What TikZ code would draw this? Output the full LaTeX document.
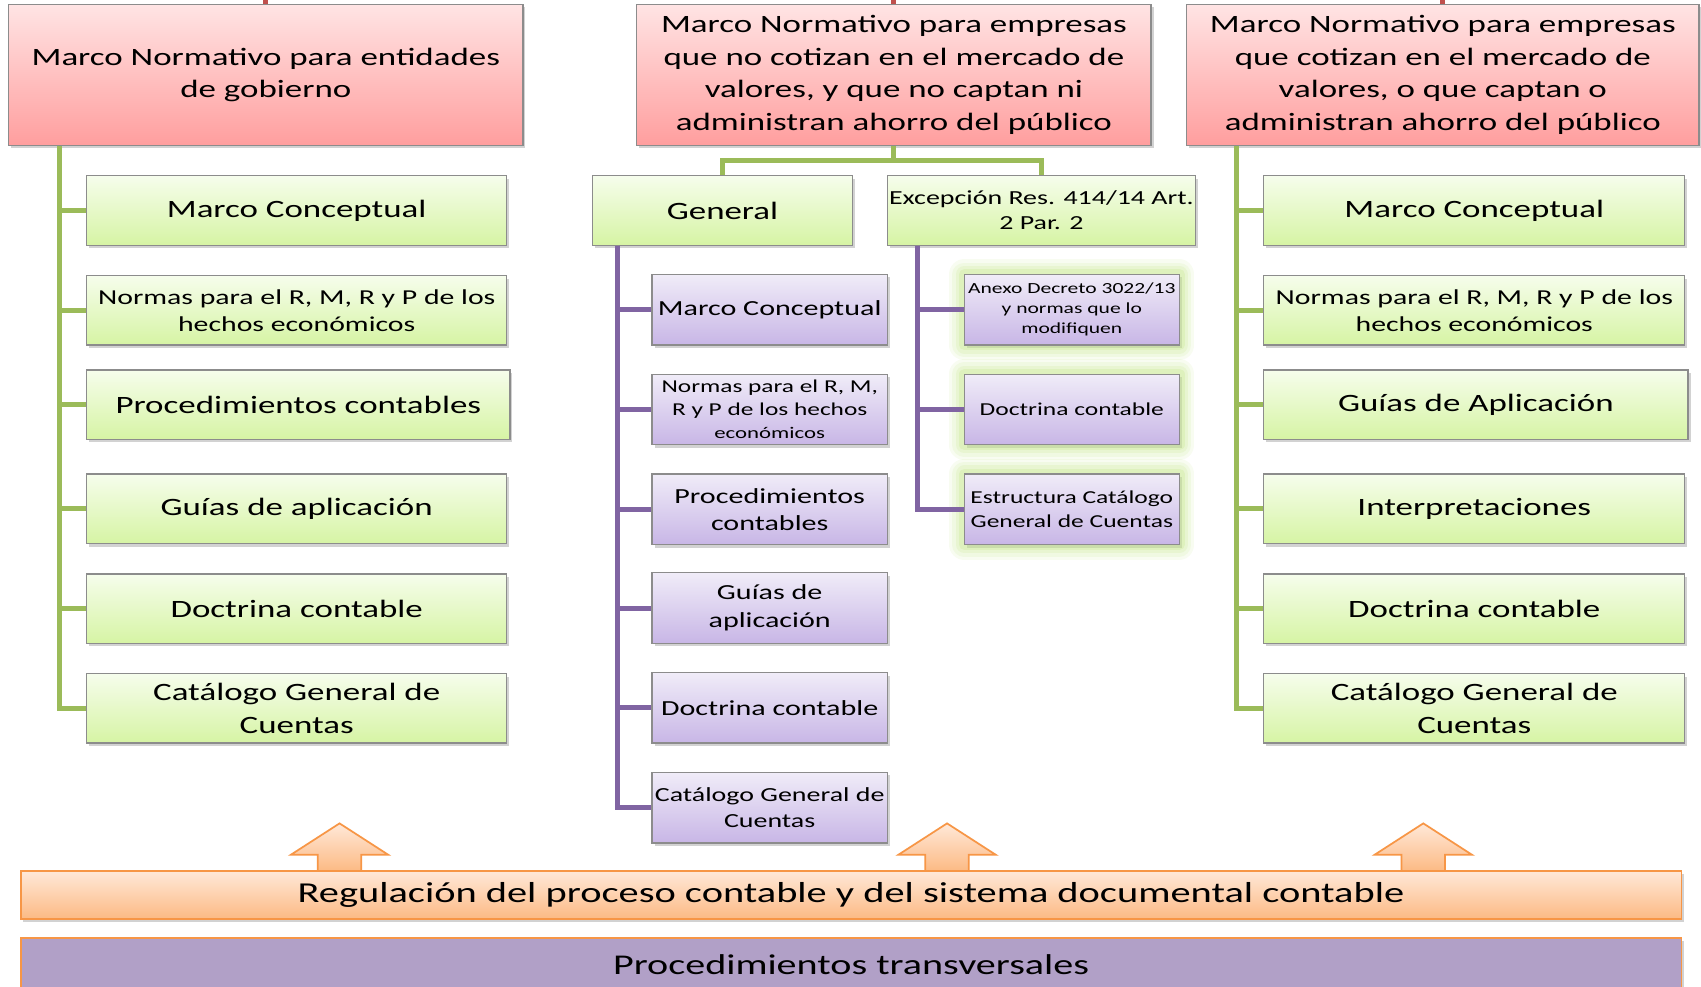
\documentclass[tikz,border=0pt]{standalone}
\usepackage{fontspec}
\setmainfont{Carlito}[FakeStretch=1.4]
\usetikzlibrary{shadows}
\definecolor{redtop}{HTML}{FFE4E4}
\definecolor{redbot}{HTML}{FF9E9E}
\definecolor{grntop}{HTML}{F6FDEC}
\definecolor{grnbot}{HTML}{D6F4A4}
\definecolor{purtop}{HTML}{F0ECF8}
\definecolor{purbot}{HTML}{C8B6E6}
\definecolor{ortop}{HTML}{FFE8D8}
\definecolor{orbot}{HTML}{FCBA84}
\definecolor{orline}{HTML}{F79646}
\definecolor{gline}{HTML}{9BBB59}
\definecolor{pline}{HTML}{8064A2}
\definecolor{rline}{HTML}{C0504D}
\definecolor{bord}{HTML}{8C8C8C}
\definecolor{glowc}{HTML}{C8E890}
\definecolor{transfill}{HTML}{B1A0C7}
\newcommand\mybox[7]{%
  \pgfmathsetmacro\cxx{(#3+#5)/2}\pgfmathsetmacro\cyy{(#4+#6)/2}%
  \pgfmathsetmacro\ww{(#5-#3)*0.5}\pgfmathsetmacro\hh{(#6-#4)*0.5}%
  \node[#2, minimum width=\ww pt, minimum height=\hh pt] (#1) at (\cxx,\cyy) {#7};}
\newcommand\uparr[1]{%
  \draw[arrowsty] (#1-20,803) -- (#1-20,788) -- (#1-45,788) -- (#1,759) -- (#1+45,788) -- (#1+20,788) -- (#1+20,803);}
\tikzset{
  base/.style={draw=bord, line width=0.6pt, inner sep=0pt, align=center, text=black,
    drop shadow={shadow xshift=1.2pt, shadow yshift=-1.4pt, opacity=0.35}},
  redbox/.style={base, top color=redtop, bottom color=redbot, font=\fontsize{11.5}{15}\selectfont},
  grnbox/.style={base, top color=grntop, bottom color=grnbot, font=\fontsize{11.5}{15}\selectfont},
  purbox/.style={base, top color=purtop, bottom color=purbot, font=\fontsize{9.9}{12.5}\selectfont},
  glowbox/.style={purbox,
    preaction={draw=glowc, line width=14pt, opacity=0.12, line join=round},
    preaction={draw=glowc, line width=11pt, opacity=0.15, line join=round},
    preaction={draw=glowc, line width=8pt, opacity=0.2, line join=round},
    preaction={draw=glowc, line width=5pt, opacity=0.3, line join=round}},
  gconn/.style={draw=gline, line width=2.3pt},
  pconn/.style={draw=pline, line width=2.3pt},
  rconn/.style={draw=rline, line width=2.3pt},
  arrowsty/.style={draw=orline, line width=0.8pt, top color=ortop, bottom color=orbot},
}
\begin{document}
\begin{tikzpicture}[x=0.5pt,y=-0.5pt]
\clip (0,0) rectangle (1568,909);
\fill[white] (0,0) rectangle (1568,909);

% top red boxes
\mybox{A}{redbox}{8}{4}{482}{134}{Marco Normativo para entidades\\de gobierno}
\mybox{B}{redbox}{587}{4}{1061}{134}{Marco Normativo para empresas\\que no cotizan en el mercado de\\valores, y que no captan ni\\administran ahorro del público}
\mybox{C}{redbox}{1094}{4}{1566}{134}{Marco Normativo para empresas\\que cotizan en el mercado de\\valores, o que captan o\\administran ahorro del público}
\draw[rconn] (A.north) -- ++(0,-12);
\draw[rconn] (B.north) -- ++(0,-12);
\draw[rconn] (C.north) -- ++(0,-12);

% left column
\mybox{a1}{grnbox}{80}{162}{467}{226}{Marco Conceptual}
\mybox{a2}{grnbox, font=\fontsize{9.8}{12.5}\selectfont}{80}{254}{467}{318}{Normas para el R, M, R y P de los\\hechos económicos}
\mybox{a3}{grnbox}{80}{341}{470}{405}{Procedimientos contables}
\mybox{a4}{grnbox}{80}{437}{467}{501}{Guías de aplicación}
\mybox{a5}{grnbox}{80}{529}{467}{593}{Doctrina contable}
\mybox{a6}{grnbox}{80}{621}{467}{685}{Catálogo General de\\Cuentas}
\foreach \i in {1,...,6}{\draw[gconn] ([xshift=23.5pt]A.south west) |- (a\i.west);}

% right column
\mybox{c1}{grnbox}{1165}{162}{1553}{226}{Marco Conceptual}
\mybox{c2}{grnbox, font=\fontsize{9.8}{12.5}\selectfont}{1165}{254}{1553}{318}{Normas para el R, M, R y P de los\\hechos económicos}
\mybox{c3}{grnbox}{1165}{341}{1556}{405}{Guías de Aplicación}
\mybox{c4}{grnbox}{1165}{437}{1553}{501}{Interpretaciones}
\mybox{c5}{grnbox}{1165}{529}{1553}{593}{Doctrina contable}
\mybox{c6}{grnbox}{1165}{621}{1553}{685}{Catálogo General de\\Cuentas}
\foreach \i in {1,...,6}{\draw[gconn] ([xshift=23pt]C.south west) |- (c\i.west);}

% middle column
\mybox{gen}{grnbox}{546}{162}{786}{226}{General}
\mybox{exc}{grnbox, font=\fontsize{9.2}{11.5}\selectfont}{818}{162}{1102}{226}{Excepción Res. 414/14 Art.\\2 Par. 2}
\draw[gconn] (B.south) -- ++(0,13) -| (gen.north);
\draw[gconn] (B.south) -- ++(0,13) -| (exc.north);

\mybox{p1}{purbox}{601}{253}{818}{318}{Marco Conceptual}
\mybox{p2}{purbox, font=\fontsize{8.35}{10.5}\selectfont}{601}{345}{818}{410}{Normas para el R, M,\\R y P de los hechos\\{\fontsize{7.5}{9}\selectfont económicos}}
\mybox{p3}{purbox}{601}{437}{818}{502}{Procedimientos\\contables}
\mybox{p4}{purbox, font=\fontsize{9.9}{13}\selectfont}{601}{528}{818}{593}{Guías de\\aplicación}
\mybox{p5}{purbox}{601}{620}{818}{685}{Doctrina contable}
\mybox{p6}{purbox, font=\fontsize{9.2}{12}\selectfont}{601}{712}{818}{777}{Catálogo General de\\Cuentas}
\foreach \i in {1,...,6}{\draw[pconn] ([xshift=12pt]gen.south west) |- (p\i.west);}

\mybox{q1}{glowbox, font=\fontsize{7.1}{9.25}\selectfont}{889}{253}{1087}{318}{Anexo Decreto 3022/13\\y normas que lo\\modifiquen}
\mybox{q2}{glowbox, font=\fontsize{8.4}{11}\selectfont}{889}{345}{1087}{410}{Doctrina contable}
\mybox{q3}{glowbox, font=\fontsize{8.4}{11}\selectfont}{889}{437}{1087}{502}{Estructura Catálogo\\General de Cuentas}
\foreach \i in {1,...,3}{\draw[pconn] ([xshift=14pt]exc.south west) |- (q\i.west);}

% bottom
\uparr{313}
\uparr{873}
\uparr{1312}
\mybox{reg}{base, draw=orline, line width=0.9pt, top color=ortop, bottom color=orbot, font=\fontsize{13.3}{16}\selectfont}{19}{803}{1550}{847}{Regulación del proceso contable y del sistema documental contable}
\mybox{trans}{base, draw=orline, line width=0.9pt, fill=transfill, font=\fontsize{13.2}{16}\selectfont}{19}{865}{1550}{913}{Procedimientos transversales}
\end{tikzpicture}
\end{document}
